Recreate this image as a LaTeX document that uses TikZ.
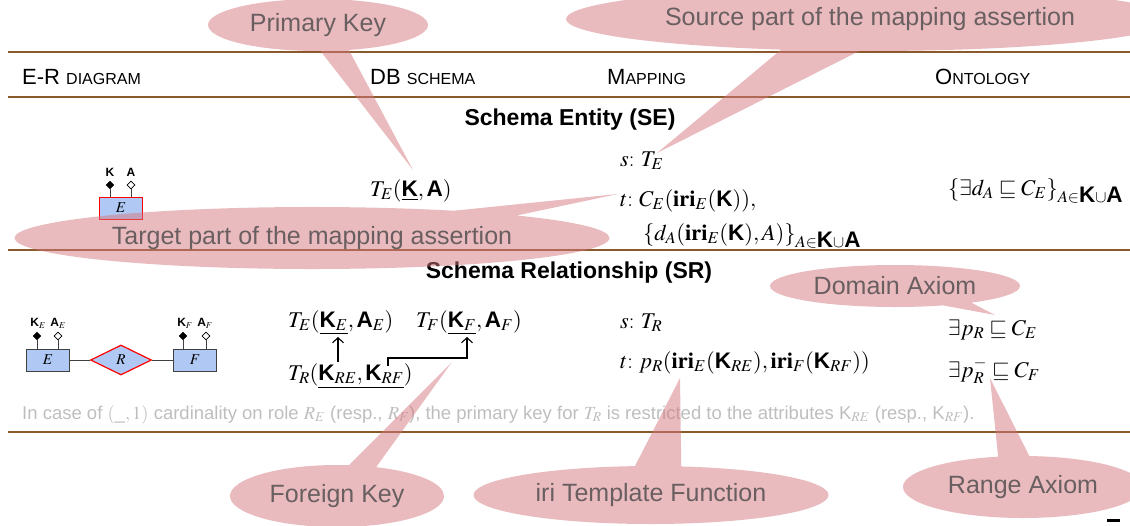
\documentclass[tikz,border=0pt]{standalone}
\usepackage{mathptmx}
\usepackage[no-math]{fontspec}
\setmainfont{Liberation Sans}
\setsansfont{Liberation Sans}
\usetikzlibrary{shapes.callouts,shapes.geometric,arrows.meta}
\definecolor{rulebrown}{RGB}{139,90,43}
\definecolor{erblue}{RGB}{176,200,244}
\definecolor{callfill}{RGB}{214,120,126}
\definecolor{calltext}{RGB}{105,95,97}
\definecolor{notegray}{RGB}{190,190,190}
\newcommand\hsc[1]{{\fontsize{16}{16}\selectfont #1}}
\newcommand\bK{\textbf{K}}
\newcommand\bA{\textbf{A}}
\newcommand\lbl[1]{$#1${\fontfamily{ptm}\selectfont:}\ }
\begin{document}
\begin{tikzpicture}[x=1pt,y=-1pt,
  rulethick/.style={draw=rulebrown,line width=2.5pt},
  rulethin/.style={draw=rulebrown,line width=1.2pt},
  hdr/.style={anchor=base west,inner sep=0pt,font=\fontsize{22}{22}\selectfont},
  sect/.style={anchor=base,inner sep=0pt,font=\fontsize{23}{23}\selectfont\bfseries},
  mth/.style={anchor=base west,inner sep=0pt,font=\fontsize{22.5}{26}\selectfont},
  ent/.style={draw=black!75,fill=erblue,minimum width=43pt,minimum height=22pt,inner sep=0pt,line width=1pt,font=\fontsize{15}{15}\selectfont},
  rel/.style={diamond,draw=red,fill=erblue,minimum width=61pt,minimum height=30pt,inner sep=0pt,line width=1.2pt,font=\fontsize{15}{15}\selectfont},
  keyd/.style={diamond,fill=black,draw=black,inner sep=0pt,minimum size=8pt},
  attd/.style={diamond,fill=white,draw=black,inner sep=0pt,minimum size=8pt,line width=0.8pt},
  attl/.style={inner sep=0pt,font=\fontsize{12}{12}\selectfont\bfseries},
  erline/.style={draw=black!75,line width=1pt},
  fk/.style={line width=1.1pt,-{Straight Barb[length=5pt,width=11pt]}},
  note/.style={anchor=base west,inner sep=0pt,text=notegray,font=\fontsize{18.5}{18.5}\selectfont},
  call/.style={ellipse callout,fill=callfill,fill opacity=0.5,text opacity=1,text=calltext,font=\fontsize{25}{25}\selectfont,inner sep=0pt},
]
\useasboundingbox (0,0) rectangle (1130,525);
% rules
\draw[rulethick] (8,52) -- (1130,52);
\draw[rulethin] (8,97) -- (1130,97);
\draw[rulethin] (8,250) -- (1130,250);
\draw[rulethick] (8,432) -- (1130,432);
% header
\node[hdr] (h1) at (22,84) {E-R \hsc{DIAGRAM}};
\node[hdr] (h2) at (370,84) {DB \hsc{SCHEMA}};
\node[hdr] (h3) at (607,84) {M\hsc{APPING}};
\node[hdr] (h4) at (935,84) {O\hsc{NTOLOGY}};
% sections
\node[sect] (se) at (570,125) {Schema Entity (SE)};
\node[sect] (sr) at (569,278) {Schema Relationship (SR)};
% SE ER diagram
\node[ent,draw=red] (e1) at (121,208) {$E$};
\node[keyd] (k1) at (110,185) {};
\node[attd] (a1) at (131,185) {};
\draw[erline] (k1.south) -- (k1.south |- e1.north);
\draw[erline] (a1.south) -- (a1.south |- e1.north);
\node[attl] (k1l) at (110,172) {K};
\node[attl] (a1l) at (131,172) {A};
% SE DB
\node[mth] (te) at (370,196) {$T_E(\underline{\bK},\bA)$};
% SE mapping
\node[mth] (s1) at (620,166) {\lbl{s}$T_E$};
\node[mth] (t1) at (620,206) {\lbl{t}$C_E(\mathbf{iri}_E(\bK)),$};
\node[mth] (t1b) at (643,240) {$\{d_A(\mathbf{iri}_E(\bK),A)\}_{A\in\bK\cup\bA}$};
% SE ontology
\node[mth] (o1) at (948,195) {$\{\exists d_A\sqsubseteq C_E\}_{A\in\bK\cup\bA}$};
% SR ER diagram
\node[ent] (e2) at (48,360) {$E$};
\node[rel] (r) at (121,360) {$R$};
\node[ent] (f2) at (195,360) {$F$};
\draw[erline] (e2) -- (r);
\draw[erline] (r) -- (f2);
\node[keyd] (k2) at (37,336) {};
\node[attd] (a2) at (58,336) {};
\node[keyd] (k3) at (183,336) {};
\node[attd] (a3) at (206,336) {};
\draw[erline] (k2.south) -- (k2.south |- e2.north);
\draw[erline] (a2.south) -- (a2.south |- e2.north);
\draw[erline] (k3.south) -- (k3.south |- f2.north);
\draw[erline] (a3.south) -- (a3.south |- f2.north);
\node[attl] (k2l) at (38,323) {$\bK_E$};
\node[attl] (a2l) at (58,323) {$\bA_E$};
\node[attl] (k3l) at (185,323) {$\bK_F$};
\node[attl] (a3l) at (205,323) {$\bA_F$};
% SR DB
\node[mth] (te2) at (288,327) {$T_E(\underline{\bK_E},\bA_E)$};
\node[mth] (tf2) at (416,327) {$T_F(\underline{\bK_F},\bA_F)$};
\node[mth] (tr2) at (288,380) {$T_R(\underline{\bK_{RE},\bK_{RF}})$};
\coordinate (kre) at (338,362);
\coordinate (ket) at (338,337);
\coordinate (krf) at (388,366);
\coordinate (kft) at (467,337);
\draw[fk] (kre) -- (ket);
\draw[fk] (krf) -- ++(0,-8) -| (kft);
% SR mapping
\node[mth] (s2) at (620,328) {\lbl{s}$T_R$};
\node[mth] (t2) at (620,368) {\lbl{t}$p_R(\mathbf{iri}_E(\bK_{RE}),\mathbf{iri}_F(\bK_{RF}))$};
% SR ontology
\node[mth] (o2) at (948,335) {$\exists p_R\sqsubseteq C_E$};
\node[mth] (o3) at (948,377) {$\exists p_R^-\sqsubseteq C_F$};
% note
\node[note] (nt) at (22,419) {In case of $(\_,1)$ cardinality on role $R_E$ (resp., $R_F$), the primary key for $T_R$ is restricted to the attributes $\mbox{K}_{RE}$ (resp., $\mbox{K}_{RF}$).};
% mark
\fill (1107,519) rectangle (1120,521.5);
% callouts
\coordinate (pkt) at (413,170);
\coordinate (srct) at (657,153);
\coordinate (tgtt) at (618,194);
\coordinate (domt) at (995,315);
\coordinate (fkt) at (452,362);
\coordinate (irit) at (680,378);
\coordinate (rngt) at (990,378);
\node[call,minimum width=220pt,minimum height=52pt,callout absolute pointer={(pkt)}] (pk) at (318,25) {Primary Key};
\node[call,minimum width=608pt,minimum height=64pt,callout absolute pointer={(srct)}] (src) at (870,19) {Source part of the mapping assertion};
\node[call,minimum width=595pt,minimum height=62pt,callout absolute pointer={(tgtt)}] (tgt) at (312,238) {Target part of the mapping assertion};
\node[call,minimum width=250pt,minimum height=42pt,callout absolute pointer={(domt)}] (dom) at (895,286) {Domain Axiom};
\node[call,minimum width=214pt,minimum height=62pt,callout absolute pointer={(fkt)}] (fkc) at (337,496) {Foreign Key};
\node[call,minimum width=355pt,minimum height=58pt,callout absolute pointer={(irit)}] (iri) at (651,495) {iri Template Function};
\node[call,minimum width=240pt,minimum height=62pt,callout absolute pointer={(rngt)}] (rng) at (1023,487) {Range Axiom};
\end{tikzpicture}
\end{document}
